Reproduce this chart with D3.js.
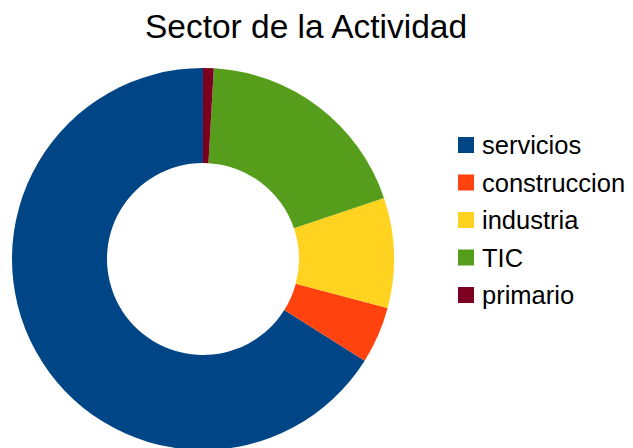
<!DOCTYPE html>
<html>
<head>
<meta charset="utf-8">
<script src="https://cdn.jsdelivr.net/npm/d3@7"></script>
<style>
  html, body { margin: 0; padding: 0; background: #fff; }
  svg { display: block; }
  text { font-family: "Liberation Sans", Arial, sans-serif; fill: #000; }
</style>
</head>
<body>
<svg id="chart" width="633" height="448"></svg>
<script>
const title = "Sector de la Actividad";
const categories = ["servicios", "construccion", "industria", "TIC", "primario"];
const values = [66.0, 4.8, 9.3, 18.9, 0.9];
const colors = ["#004586", "#ff420e", "#ffd320", "#579d1c", "#7e0021"];

const svg = d3.select("#chart");
const W = 633, H = 448;
const cx = 203, cy = 259, rOuter = 191, rInner = 96;

svg.append("text")
  .attr("x", 306).attr("y", 38)
  .attr("text-anchor", "middle")
  .attr("font-size", 33.5)
  .text(title);

const data = categories.map((c, i) => ({ name: c, value: values[i], color: colors[i] }));

// LibreOffice draws counterclockwise from 12 o'clock
const pie = d3.pie().sort(null).value(d => d.value)
  .startAngle(0).endAngle(-2 * Math.PI);
const arc = d3.arc().innerRadius(rInner).outerRadius(rOuter);

const g = svg.append("g").attr("transform", `translate(${cx},${cy})`);
g.selectAll("path").data(pie(data)).join("path")
  .attr("d", arc)
  .attr("fill", d => d.data.color);

const legendY = d3.scalePoint().domain(categories).range([145, 295]);
const lg = svg.append("g");
const items = lg.selectAll("g").data(data).join("g")
  .attr("transform", d => `translate(458,${legendY(d.name)})`);
items.append("rect")
  .attr("x", 0).attr("y", -8).attr("width", 16).attr("height", 16)
  .attr("fill", d => d.color);
items.append("text")
  .attr("x", 24).attr("y", 0)
  .attr("dy", "0.36em")
  .attr("font-size", 25.5)
  .text(d => d.name);
</script>
</body>
</html>
